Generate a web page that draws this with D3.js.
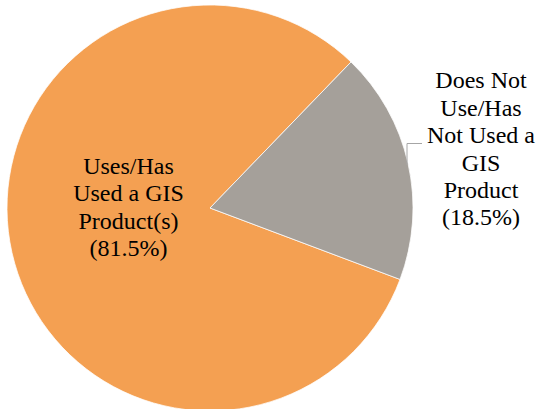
<!DOCTYPE html>
<html>
<head>
<meta charset="utf-8" />
<script src="https://d3js.org/d3.v7.min.js"></script>
</head>
<body style="margin:0">
<svg id="chart" width="537" height="409"></svg>
<script>
// data
var categories = ["Uses/Has Used a GIS Product(s)", "Does Not Use/Has Not Used a GIS Product"];
var values = [81.5, 18.5];
var colors = ["#F4A052", "#A5A09A"];
var labelLines = [
    ["Uses/Has", "Used a GIS", "Product(s)", "(81.5%)"],
    ["Does Not", "Use/Has", "Not Used a", "GIS", "Product", "(18.5%)"]
];

var cx = 210, cy = 208, radius = 203;
var lineH = 27.4;

var svg = d3.select("#chart");
var g = svg.append("g")
    .attr("transform", "translate(" + cx + "," + cy + ")");

var slices = categories.map(function(c, i) {
    return { name: c, value: values[i], color: colors[i], lines: labelLines[i] };
});

// gray slice sits from ~44 deg clockwise of 12 o'clock; orange starts where gray ends
var grayStart = 44 * Math.PI / 180;
var start = grayStart + 2 * Math.PI * values[1] / 100;
var pie = d3.pie()
    .sort(null)
    .value(function(d) { return d.value; })
    .startAngle(start)
    .endAngle(start + 2 * Math.PI);

var arc = d3.arc().innerRadius(0).outerRadius(radius);
var arcs = pie(slices);

g.selectAll("path")
    .data(arcs)
    .enter().append("path")
    .attr("d", arc)
    .attr("fill", function(d) { return d.data.color; })
    .attr("stroke", "#fff")
    .attr("stroke-width", 0.75);

// leader line for the small slice
svg.append("polyline")
    .attr("points", "407,165 407,143.5 422,143.5")
    .attr("fill", "none")
    .attr("stroke", "#A6A6A6")
    .attr("stroke-width", 1);

// label anchors (absolute), centred by measuring each line
var labelX = [128.5, 481];
var labelY = [174, 88.3];
var rows = [];
arcs.forEach(function(a, k) {
    a.data.lines.forEach(function(line, i) {
        rows.push({ t: line, x: labelX[k], y: labelY[k] + i * lineH });
    });
});

svg.selectAll("text")
    .data(rows)
    .enter().append("text")
    .attr("x", function(d) { return d.x; })
    .attr("y", function(d) { return d.y; })
    .style("font-family", "\"Liberation Serif\"")
    .style("font-size", "24px")
    .text(function(d) { return d.t; })
    .attr("x", function(d) { return d.x - this.getComputedTextLength() / 2; });
</script>
</body>
</html>
